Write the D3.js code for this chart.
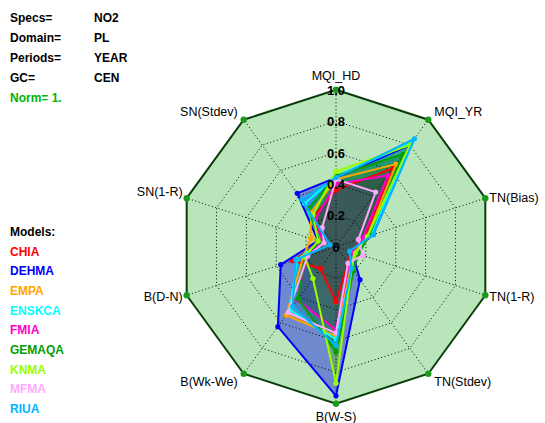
<!DOCTYPE html>
<html>
<head>
<meta charset="utf-8">
<script src="https://cdn.jsdelivr.net/npm/d3@7"></script>
<style>
  html, body { margin: 0; padding: 0; background: #ffffff; }
  svg { display: block; }
  text { font-family: "Liberation Sans", Arial, Helvetica, sans-serif; }
</style>
</head>
<body>
<div id="chart"></div>
<script>
// Radar axes, clockwise from the top
const axes = ["MQI_HD", "MQI_YR", "TN(Bias)", "TN(1-R)", "TN(Stdev)",
              "B(W-S)", "B(Wk-We)", "B(D-N)", "SN(1-R)", "SN(Stdev)"];

// Model names and colours
const models = ["CHIA", "DEHMA", "EMPA", "ENSKCA", "FMIA", "GEMAQA", "KNMA", "MFMA", "RIUA"];
const modelColors = ["#ff0000", "#0000ff", "#ffa500", "#00ffff", "#ff00c8",
                     "#00a000", "#99ff00", "#ffaaff", "#00b4ff"];

// Normalised indicator values per model, one entry per axis
const CHIA   = [0.36, 0.62, 0.19, 0.10, 0.13, 0.35, 0.17, 0.29, 0.10, 0.24];
const DEHMA  = [0.44, 0.80, 0.25, 0.11, 0.26, 0.95, 0.63, 0.37, 0.12, 0.42];
const EMPA   = [0.43, 0.65, 0.21, 0.12, 0.16, 0.57, 0.54, 0.22, 0.17, 0.27];
const ENSKCA = [0.45, 0.82, 0.23, 0.10, 0.18, 0.59, 0.50, 0.26, 0.10, 0.34];
const FMIA   = [0.40, 0.56, 0.18, 0.11, 0.14, 0.53, 0.42, 0.20, 0.09, 0.22];
const GEMAQA = [0.45, 0.73, 0.22, 0.15, 0.19, 0.67, 0.41, 0.21, 0.11, 0.30];
const KNMA   = [0.48, 0.80, 0.21, 0.13, 0.17, 0.87, 0.25, 0.21, 0.12, 0.25];
const MFMA   = [0.43, 0.43, 0.15, 0.18, 0.13, 0.55, 0.52, 0.19, 0.08, 0.15];
const RIUA   = [0.44, 0.85, 0.25, 0.09, 0.17, 0.63, 0.47, 0.27, 0.04, 0.37];
const seriesValues = [CHIA, DEHMA, EMPA, ENSKCA, FMIA, GEMAQA, KNMA, MFMA, RIUA];

// Radial ticks
const ringValues = [0.2, 0.4, 0.6, 0.8];
const tickLabels = ["0", "0.2", "0.4", "0.6", "0.8", "1.0"];
const tickValues = [0, 0.2, 0.4, 0.6, 0.8, 1.0];

// Header block
const infoKeys = ["Specs=", "Domain=", "Periods=", "GC="];
const infoValues = ["NO2", "PL", "YEAR", "CEN"];
const normText = "Norm= 1.";

const W = 545, H = 423;
const cx = 336, cy = 246.7, R = 157;

const svg = d3.select("#chart").append("svg")
  .attr("width", W).attr("height", H);

const r = d3.scaleLinear().domain([0, 1]).range([0, R]);
const angle = d3.scaleLinear().domain([0, axes.length]).range([0, 2 * Math.PI]);

const pt = (i, v) => {
  const a = angle(i);
  return [cx + r(v) * Math.sin(a), cy - r(v) * Math.cos(a)];
};
const ringPoints = v => axes.map((_, i) => pt(i, v));
const closedLine = d3.line().curve(d3.curveLinearClosed);

// Plot area: light green decagon, fills blended inside an isolated group
const plot = svg.append("g").style("isolation", "isolate");
plot.append("path")
  .attr("d", closedLine(ringPoints(1)))
  .attr("fill", "#b9e5bb")
  .attr("stroke", "none");

// Model data
const modelData = models.map((m, k) => ({
  name: m, color: modelColors[k],
  pts: seriesValues[k].map((v, i) => pt(i, v))
}));

// Translucent fills: a colour wash plus a light multiply pass,
// so lone areas keep their hue and crowded areas turn greyish
const fills = plot.append("g");
fills.selectAll("path.wash").data(modelData).join("path")
  .attr("class", "wash")
  .attr("d", d => closedLine(d.pts))
  .attr("fill", d => d.color)
  .attr("fill-opacity", 0.3);
fills.selectAll("path.shade").data(modelData).join("path")
  .attr("class", "shade")
  .attr("d", d => closedLine(d.pts))
  .attr("fill", d => d.color)
  .attr("fill-opacity", 0.14)
  .style("mix-blend-mode", "multiply");

// Dotted rings and spokes
const grid = svg.append("g").attr("fill", "none").attr("stroke", "#000")
  .attr("stroke-width", 1).attr("stroke-dasharray", "1,2.5");
grid.selectAll("path.ring").data(ringValues).join("path")
  .attr("class", "ring")
  .attr("d", v => closedLine(ringPoints(v)));
grid.selectAll("line.spoke").data(axes).join("line")
  .attr("class", "spoke")
  .attr("x1", cx).attr("y1", cy)
  .attr("x2", (_, i) => pt(i, 1)[0])
  .attr("y2", (_, i) => pt(i, 1)[1]);

// Outlines and markers
const outlines = svg.append("g");
modelData.forEach(d => {
  const g = outlines.append("g");
  g.append("path")
    .attr("d", closedLine(d.pts))
    .attr("fill", "none")
    .attr("stroke", d.color)
    .attr("stroke-width", 2)
    .attr("stroke-linejoin", "round");
  g.selectAll("circle").data(d.pts).join("circle")
    .attr("cx", p => p[0]).attr("cy", p => p[1])
    .attr("r", 2.6).attr("fill", d.color);
});

// Outer frame outline and vertex dots
svg.append("path")
  .attr("d", closedLine(ringPoints(1)))
  .attr("fill", "none")
  .attr("stroke", "#0b3d0b")
  .attr("stroke-width", 2);
svg.append("g").selectAll("circle").data(axes).join("circle")
  .attr("cx", (_, i) => pt(i, 1)[0])
  .attr("cy", (_, i) => pt(i, 1)[1])
  .attr("r", 3.2).attr("fill", "#1a9a1a");

// Radial tick labels along the top axis
svg.append("g").selectAll("text").data(tickValues).join("text")
  .attr("x", cx)
  .attr("y", v => pt(0, v)[1] + 5)
  .attr("text-anchor", "middle")
  .attr("font-size", 13).attr("font-weight", "bold")
  .attr("fill", "#000")
  .text((_, i) => tickLabels[i]);

// Axis labels
const labelPos = [
  { dx: 0, dy: -9.5, anchor: "middle" },
  { dx: 6, dy: -4, anchor: "start" },
  { dx: 4, dy: 4, anchor: "start" },
  { dx: 4, dy: 6, anchor: "start" },
  { dx: 6, dy: 12, anchor: "start" },
  { dx: 0, dy: 17, anchor: "middle" },
  { dx: -6, dy: 12, anchor: "end" },
  { dx: -4, dy: 6, anchor: "end" },
  { dx: -4, dy: -2, anchor: "end" },
  { dx: -6, dy: -4, anchor: "end" }
];
svg.append("g").selectAll("text").data(axes).join("text")
  .attr("x", (_, i) => pt(i, 1)[0] + labelPos[i].dx)
  .attr("y", (_, i) => pt(i, 1)[1] + labelPos[i].dy)
  .attr("text-anchor", (_, i) => labelPos[i].anchor)
  .attr("font-size", 12.5)
  .attr("fill", "#000")
  .text(d => d);

// Header
const info = svg.append("g").attr("font-size", 12).attr("font-weight", "bold");
infoKeys.forEach((k, i) => {
  info.append("text").attr("x", 10).attr("y", 22 + i * 20).attr("fill", "#000").text(k);
  info.append("text").attr("x", 94).attr("y", 22 + i * 20).attr("fill", "#000").text(infoValues[i]);
});
info.append("text").attr("x", 10).attr("y", 102).attr("fill", "#00b400").text(normText);

// Legend
const legend = svg.append("g").attr("font-size", 12).attr("font-weight", "bold");
legend.append("text").attr("x", 10).attr("y", 236).attr("fill", "#000").text("Models:");
legend.selectAll("text.item").data(models).join("text")
  .attr("class", "item")
  .attr("x", 10)
  .attr("y", (_, i) => 255.5 + i * 19.7)
  .attr("fill", (_, i) => modelColors[i])
  .text(d => d);
</script>
</body>
</html>
